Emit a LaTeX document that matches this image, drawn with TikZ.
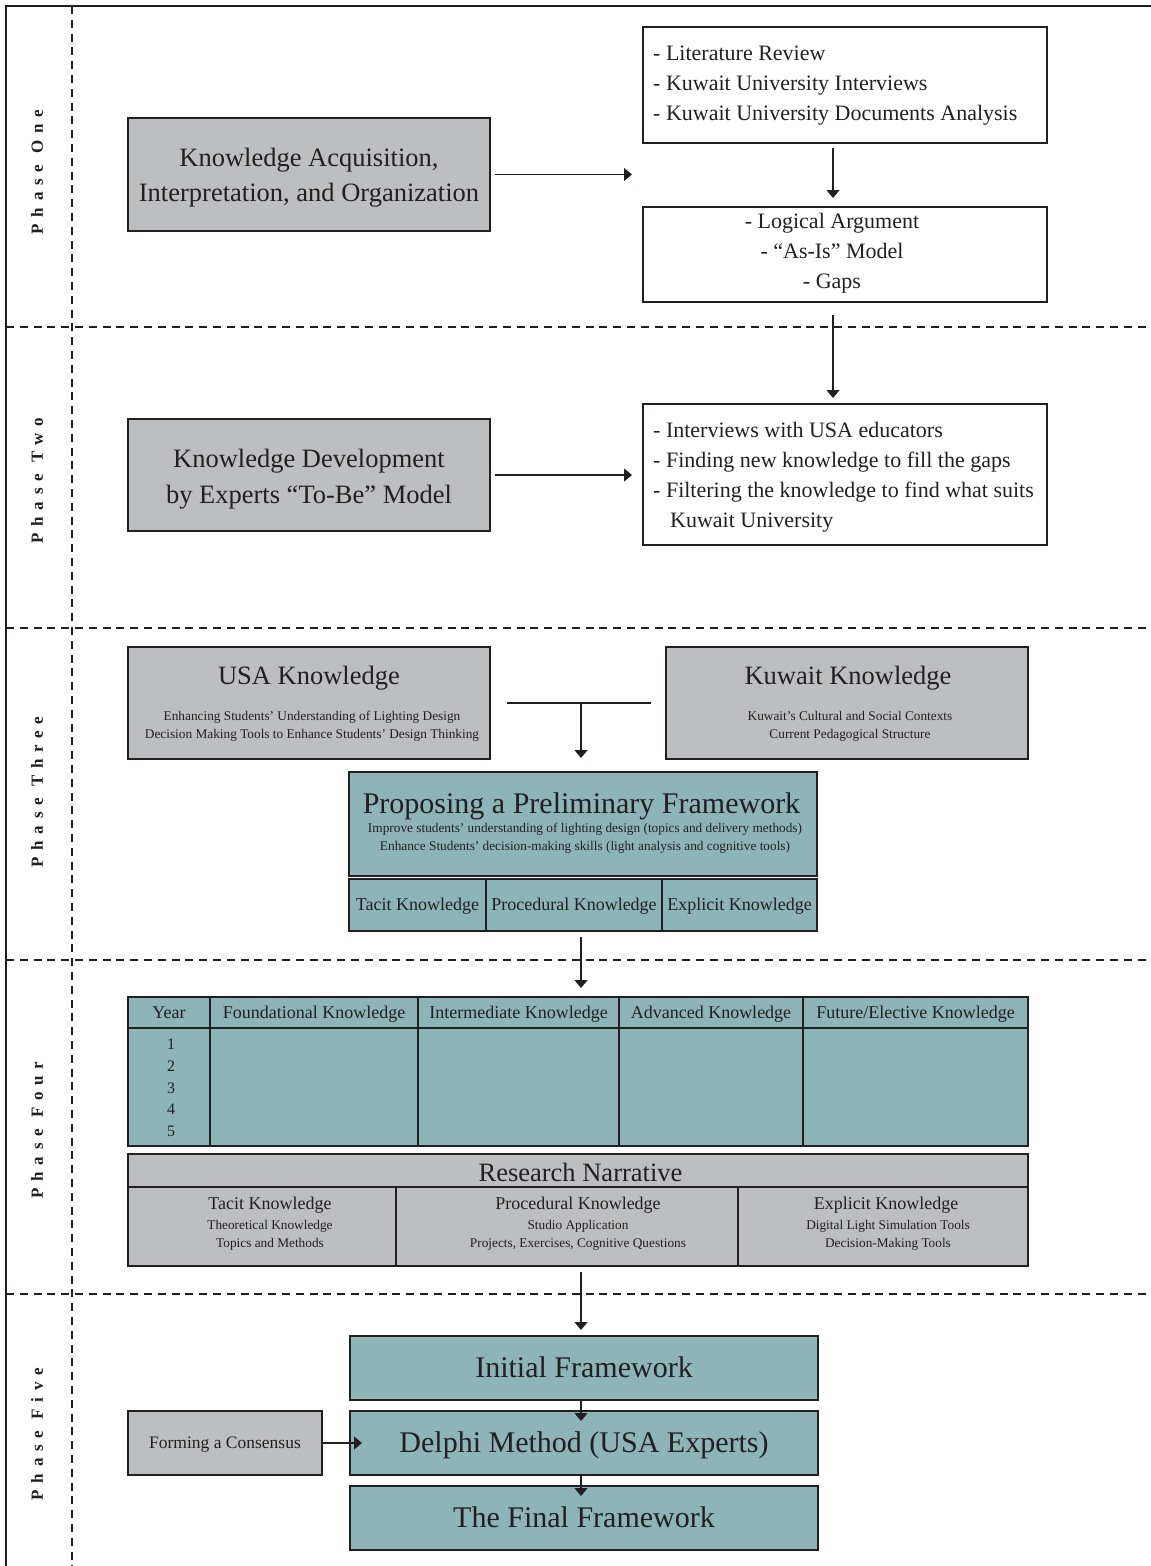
\documentclass[tikz,border=0pt]{standalone}
\usepackage{fontspec}
\setmainfont{Liberation Serif}
\newfontfamily\phasefont[LetterSpace=40]{Liberation Serif}
\usetikzlibrary{arrows.meta}
\definecolor{boxgray}{RGB}{189,190,192}
\definecolor{boxteal}{RGB}{141,180,182}
\definecolor{ink}{RGB}{35,31,32}
\newcommand\fsz[2]{\fontsize{#1}{#2}\selectfont}

\begin{document}
\begin{tikzpicture}[x=1pt,y=-1pt,
  box/.style={draw=ink, line width=2.7pt, inner sep=0pt, outer sep=0pt, text=ink},
  graybox/.style={box, fill=boxgray},
  tealbox/.style={box, fill=boxteal},
  whitebox/.style={box, fill=white, line width=2.5pt},
  capcentre/.style={text height=#1, text depth=0pt},
  txt/.style={inner sep=0pt, text=ink, align=center},
  listtxt/.style={inner sep=0pt, text=ink, align=left, anchor=west, font=\fsz{22}{30}},
  flow/.style={draw=ink, line width=1.3pt, -{Triangle[length=8pt,width=13pt]}},
  joinline/.style={draw=ink, line width=1.3pt},
  phaseline/.style={draw=ink, line width=2.8pt, dash pattern=on 8pt off 5.8pt},
  phaselabel/.style={rotate=90, inner sep=0pt, text=ink, font=\phasefont\bfseries\fsz{17}{17}},
  cellbox/.style={tealbox, font=\fsz{18}{20}},
  cell/.style={cellbox, capcentre=11.9pt},
  bigbox/.style={tealbox, capcentre=19.8pt, minimum width=468pt, minimum height=64pt, font=\fsz{30}{34}},
  subtxt/.style={txt, font=\fsz{13.3}{18}},
]
\useasboundingbox (0,0) rectangle (1151,1566);

% outer frame and phase separators
\draw[ink, line width=2.7pt] (1151,6) -- (6,6) -- (6,1566);
\draw[phaseline] (72,6) -- (72,1566);
\foreach \yy in {327,628,960,1294}
  \draw[phaseline] (6,\yy) -- (1151,\yy);

% phase labels
\node[phaselabel] (ph1) at (37,172) {Phase One};
\node[phaselabel] (ph2) at (37,481) {Phase Two};
\node[phaselabel] (ph3) at (37,792) {Phase Three};
\node[phaselabel] (ph4) at (37,1130) {Phase Four};
\node[phaselabel] (ph5) at (37,1434) {Phase Five};

\coordinate (col) at (833,0);
\coordinate (spine) at (581,0);

% ---- Phase one
\node[graybox, minimum width=362pt, minimum height=113pt] (acq) at (309,174.5) {};
\node[txt, font=\fsz{26.5}{35}] (acqtxt) at (309,177.5) {Knowledge Acquisition,\\Interpretation, and Organization};
\node[whitebox, minimum width=404pt, minimum height=116pt] (lit) at (845,85) {};
\node[listtxt] (littxt) at (653,86) {- Literature Review\\- Kuwait University Interviews\\- Kuwait University Documents Analysis};
\node[whitebox, minimum width=404pt, minimum height=95pt] (asis) at (845,254.5) {};
\node[txt, font=\fsz{22}{30}] (asistxt) at (832,253) {- Logical Argument\\- “As-Is” Model\\- Gaps};

% ---- Phase two
\node[graybox, minimum width=362pt, minimum height=112pt] (dev) at (309,475) {};
\node[txt, font=\fsz{26.5}{36}] (devtxt) at (309,479) {Knowledge Development\\by Experts “To-Be” Model};
\node[whitebox, minimum width=404pt, minimum height=141pt] (edu) at (845,474.5) {};
\node[listtxt] (edutxt) at (653,477) {- Interviews with USA educators\\- Finding new knowledge to fill the gaps\\- Filtering the knowledge to find what suits\\\hspace*{17pt}Kuwait University};

% ---- Phase three
\node[graybox, minimum width=362pt, minimum height=112pt] (usak) at (309,703) {};
\node[txt, font=\fsz{26.5}{30}] (usat) at (309,678) {USA Knowledge};
\node[subtxt] (usas) at (312,726) {Enhancing Students’ Understanding of Lighting Design\\Decision Making Tools to Enhance Students’ Design Thinking};

\node[graybox, minimum width=362pt, minimum height=112pt] (kwk) at (847,703) {};
\node[txt, font=\fsz{26.5}{30}] (kwt) at (848,678) {Kuwait Knowledge};
\node[subtxt] (kws) at (850,726) {Kuwait’s Cultural and Social Contexts\\Current Pedagogical Structure};

\node[tealbox, minimum width=468pt, minimum height=104pt] (prop) at (583,824) {};
\node[txt, font=\fsz{30}{34}] (propt) at (581.5,806) {Proposing a Preliminary Framework};
\node[subtxt] (props) at (585,838) {Improve students’ understanding of lighting design (topics and delivery methods)\\Enhance Students’ decision-making skills (light analysis and cognitive tools)};

\node[cell, minimum width=137pt, minimum height=52pt] (tacit) at (417.5,905) {Tacit Knowledge};
\node[cell, minimum width=176pt, minimum height=52pt] (proc) at (574,905) {Procedural Knowledge};
\node[cell, minimum width=155pt, minimum height=52pt] (expl) at (739.5,905) {Explicit Knowledge};

% ---- Phase four: curriculum table
\node[cell, minimum width=82pt, minimum height=31pt] (yearH) at (169,1012.5) {Year};
\node[cell, minimum width=208pt, minimum height=31pt] (foundH) at (314,1012.5) {Foundational Knowledge};
\node[cell, minimum width=201pt, minimum height=31pt] (interH) at (518.5,1012.5) {Intermediate Knowledge};
\node[cell, minimum width=184pt, minimum height=31pt] (advH) at (711,1012.5) {Advanced Knowledge};
\node[cell, minimum width=225pt, minimum height=31pt] (futH) at (915.5,1012.5) {Future/Elective Knowledge};
\node[cellbox, minimum width=82pt, minimum height=118pt] (yearB) at (169,1087) {};
\node[txt, font=\fsz{16}{21.75}] (years) at (171,1088) {1\\2\\3\\4\\5};
\node[cellbox, minimum width=208pt, minimum height=118pt] (foundB) at (314,1087) {};
\node[cellbox, minimum width=201pt, minimum height=118pt] (interB) at (518.5,1087) {};
\node[cellbox, minimum width=184pt, minimum height=118pt] (advB) at (711,1087) {};
\node[cellbox, minimum width=225pt, minimum height=118pt] (futB) at (915.5,1087) {};

% research narrative
\node[graybox, minimum width=900pt, minimum height=33pt] (rnH) at (578,1170.5) {};
\node[txt, font=\fsz{26.5}{30}] (rnt) at (580.5,1172) {Research Narrative};
\node[graybox, minimum width=268pt, minimum height=79pt] (tacitR) at (262,1226.5) {};
\node[graybox, minimum width=342pt, minimum height=79pt] (procR) at (567,1226.5) {};
\node[graybox, minimum width=290pt, minimum height=79pt] (explR) at (883,1226.5) {};
\node[txt, font=\fsz{18}{20}] (tacitRt) at (270,1205) {Tacit Knowledge};
\node[subtxt] (tacitRs) at (270,1235) {Theoretical Knowledge\\Topics and Methods};
\node[txt, font=\fsz{18}{20}] (procRt) at (578,1205) {Procedural Knowledge};
\node[subtxt] (procRs) at (578,1235) {Studio Application\\Projects, Exercises, Cognitive Questions};
\node[txt, font=\fsz{18}{20}] (explRt) at (886,1205) {Explicit Knowledge};
\node[subtxt] (explRs) at (888,1235) {Digital Light Simulation Tools\\Decision-Making Tools};

% ---- Phase five
\node[bigbox] (init) at (584,1368) {Initial Framework};
\node[bigbox] (delphi) at (584,1443) {Delphi Method (USA Experts)};
\node[bigbox] (final) at (584,1518) {The Final Framework};
\node[graybox, capcentre=11.5pt, minimum width=194pt, minimum height=64pt, font=\fsz{17.5}{20}] (cons) at (225,1443) {Forming a Consensus};

% ---- connectors
\draw[flow, shorten <=5pt, shorten >=11pt] (acq.east) -- (acq.east -| asis.west);
\draw[flow, shorten <=5pt, shorten >=9pt] (lit.south -| col) -- (asis.north -| col);
\draw[flow, shorten <=13pt, shorten >=6pt] (asis.south -| col) -- (edu.north -| col);
\draw[flow, shorten <=5pt, shorten >=11pt] (dev.east) -- (dev.east -| edu.west);
\draw[joinline, shorten <=17pt, shorten >=15pt] (usak.east) -- (kwk.west);
\draw[flow, shorten >=14pt] (usak.east -| spine) -- (prop.north -| spine);
\draw[flow, shorten <=6pt, shorten >=9pt] (proc.south -| spine) -- (interH.north -| spine);
\draw[flow, shorten <=6pt, shorten >=6pt] (procR.south -| spine) -- (init.north -| spine);
\draw[flow, shorten >=-10pt] (init.south -| spine) -- (delphi.north -| spine);
\draw[flow, shorten >=-10pt] (delphi.south -| spine) -- (final.north -| spine);
\draw[flow, shorten >=-12pt] (cons.east) -- (delphi.west);

\end{tikzpicture}
\end{document}
